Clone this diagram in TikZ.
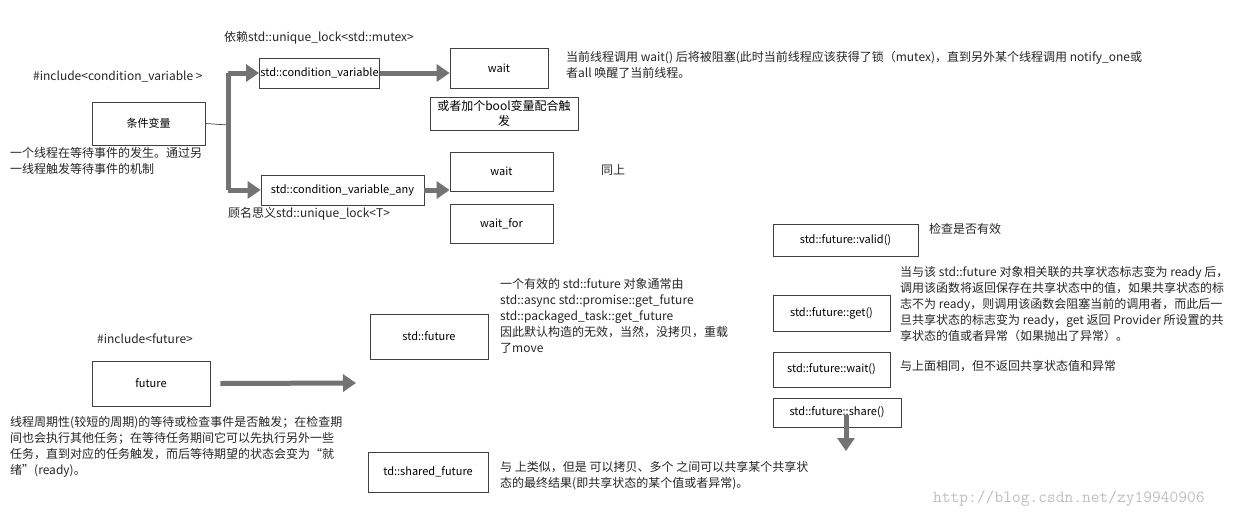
\documentclass[tikz,border=0pt]{standalone}
\usepackage{fontspec}
\setmainfont{Noto Sans CJK SC}
\usetikzlibrary{arrows.meta, positioning}
\tikzset{
  box/.style={draw=black!75, line width=0.7pt, minimum width=#1, inner sep=1pt, font=\fontsize{11}{14}\selectfont},
  box/.default=100pt,
  txt/.style={anchor=north west, align=left, inner sep=0pt, text=black!85},
  fat/.style={draw=black!55, line width=5pt, -{Triangle[length=13pt,width=17pt]}}
}
\begin{document}
\begin{tikzpicture}[x=1pt, y=-1pt, every node/.style={font=\fontsize{12}{16}\selectfont}]
  \useasboundingbox[fill=white] (0,0) rectangle (1257,520);

  % condition variable part
  \node[box=113pt, minimum height=43pt] (cond) at (148.5,123.5) {条件变量};
  \node[box=115pt, minimum height=30pt] (cv) at (319.5,73) {std::condition\_variable};
  \node[box=98pt, minimum height=40pt] (wait1) at (499,68) {wait};
  \node[box=148pt, minimum height=33pt, align=center, font=\fontsize{12}{15}\selectfont] (boolnote) at (504,113.5) {或者加个bool变量配合触\\发};
  \node[box=163pt, minimum height=30pt] (cvany) at (342.5,190) {std::condition\_variable\_any};
  \node[box=103pt, minimum height=39pt] (wait2) at (501.5,171.5) {wait};
  \node[box=103pt, minimum height=39pt] (waitfor) at (501.5,223.5) {wait\_for};

  \node[txt] (incl) at (33,71) {\#include<condition\_variable >};
  \node[txt] (dep) at (224,31) {依赖std::unique\_lock<std::mutex>};
  \node[txt] (anyname) at (228,207) {顾名思义std::unique\_lock<T>};
  \node[txt] (condnote) at (10,147) {一个线程在等待事件的发生。通过另\\一线程触发等待事件的机制};
  \node[txt] (waitnote) at (566,51) {当前线程调用 wait() 后将被阻塞(此时当前线程应该获得了锁（mutex)，直到另外某个线程调用 notify\_one或\\者all 唤醒了当前线程。};
  \node[txt] (same) at (601,164) {同上};

  \coordinate (split) at (228,125);
  \coordinate (up) at (228,73);
  \coordinate (down) at (228,190);
  \draw[black!75, line width=0.7pt] (cond.east) -- (split);
  \draw[black!55, line width=5pt] (up) -- (down);
  \draw[fat] (up) -- (cv.west);
  \draw[fat] (down) -- (cvany.west);
  \draw[fat] (cv.east) -- (wait1.west |- cv.east);
  \draw[fat] (cvany.east) -- (wait2.west |- cvany.east);

  % future part
  \node[box=118pt, minimum height=45pt] (future) at (151,383.5) {future};
  \node[box=118pt, minimum height=45pt] (stdfuture) at (429,336.5) {std::future};
  \node[box=120pt, minimum height=40pt] (shared) at (428,472) {td::shared\_future};
  \node[box=145pt, minimum height=32pt] (valid) at (845.5,240) {std::future::valid()};
  \node[box=117pt, minimum height=36pt] (get) at (831.5,313) {std::future::get()};
  \node[box=117pt, minimum height=35pt] (fwait) at (831.5,369.5) {std::future::wait()};
  \node[box=128pt, minimum height=29pt] (share) at (837,412.5) {std::future::share()};

  \node[txt] (inclf) at (97,334) {\#include<future>};
  \node[txt] (futnote) at (10,416) {线程周期性(较短的周期)的等待或检查事件是否触发；在检查期\\间也会执行其他任务；在等待任务期间它可以先执行另外一些\\任务，直到对应的任务触发，而后等待期望的状态会变为“就\\绪”(ready)。};
  \node[txt] (stdnote) at (500,278) {一个有效的 std::future 对象通常由\\std::async std::promise::get\_future\\std::packaged\_task::get\_future\\因此默认构造的无效，当然，没拷贝，重载\\了move};
  \node[txt] (sharednote) at (500,461) {与 上类似，但是 可以拷贝、多个 之间可以共享某个共享状\\态的最终结果(即共享状态的某个值或者异常)。};
  \node[txt] (validnote) at (929,223) {检查是否有效};
  \node[txt] (getnote) at (900,266) {当与该 std::future 对象相关联的共享状态标志变为 ready 后，\\调用该函数将返回保存在共享状态中的值，如果共享状态的标\\志不为 ready，则调用该函数会阻塞当前的调用者，而此后一\\旦共享状态的标志变为 ready，get 返回 Provider 所设置的共\\享状态的值或者异常（如果抛出了异常）。};
  \node[txt] (waitnote2) at (900,360) {与上面相同，但不返回共享状态值和异常};

  \coordinate (arrowend) at (356,383);
  \draw[fat] (future.east) ++(10,0) -- (arrowend);
  \coordinate (sharedown) at (846,451);
  \draw[fat] (share.center) ++(9,2) -- (sharedown);

  \node[txt, text=black!25, font=\ttfamily\fontsize{17}{17}\selectfont] (mark) at (933,490) {http://blog.csdn.net/zy19940906};
\end{tikzpicture}
\end{document}
